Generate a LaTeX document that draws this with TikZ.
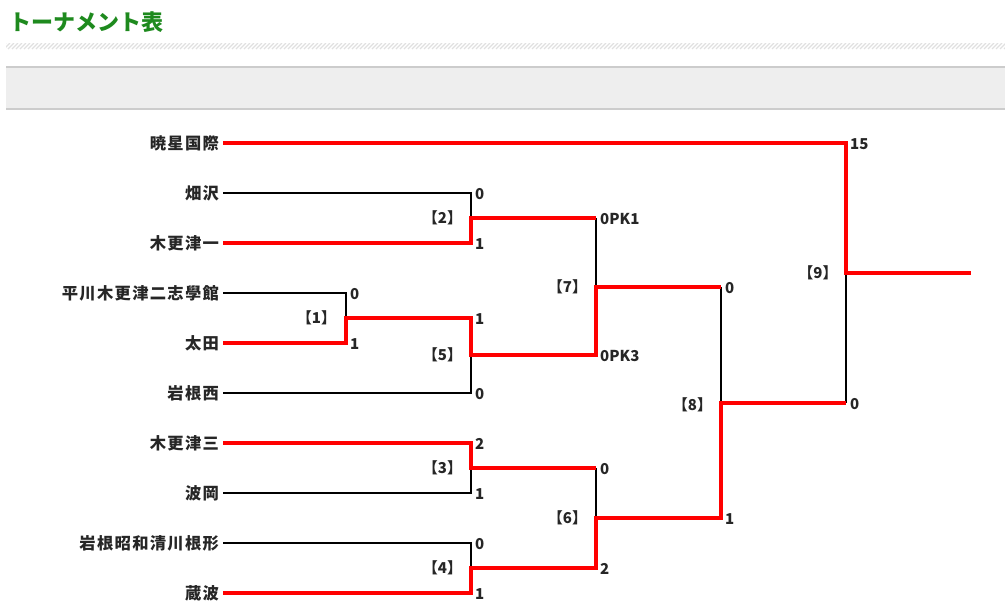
\documentclass[tikz,border=0pt]{standalone}
\usepackage{fontspec}
\newfontfamily\jp{Noto Sans CJK JP}
\definecolor{titlegreen}{RGB}{30,138,30}
\definecolor{boxgray}{RGB}{238,238,238}
\definecolor{boxline}{RGB}{204,204,204}
\definecolor{wred}{RGB}{255,0,0}
\tikzset{
  team/.style={anchor=east,inner sep=0pt,outer xsep=4pt,font=\jp\bfseries\fontsize{16.3}{16}\selectfont\addfontfeature{LetterSpace=8},text=black!85},
  score/.style={anchor=west,inner sep=0pt,font=\jp\bfseries\fontsize{15}{15}\selectfont,text=black!85},
  mlabel/.style={inner sep=0pt,font=\jp\bfseries\fontsize{15}{15}\selectfont,text=black!85},
  win/.style={draw=wred,line width=3.3pt,line join=miter},
  lose/.style={draw=black,line width=2pt,line join=miter},
}
\begin{document}
\begin{tikzpicture}[x=1pt,y=-1pt]
\useasboundingbox (0,0) rectangle (1005,611);
% header
\node[anchor=west,inner sep=0pt,text=titlegreen,font=\jp\bfseries\fontsize{22}{22}\selectfont] (title) at (9,22) {トーナメント表};
\begin{scope}
\clip (6,43) rectangle (1005,49);
\foreach \i in {0,4,...,1012} {\draw[black!12,line width=1.3pt] (\i,49) -- (\i+6,43);}
\end{scope}
\fill[boxgray] (6,67) rectangle (1005,109);
\draw[boxline,line width=1.2pt] (6,67) -- (1005,67) (6,109) -- (1005,109);
% teams
\node[team] (t1) at (223,143) {暁星国際};
\node[team] (t2) at (223,193) {畑沢};
\node[team] (t3) at (223,243) {木更津一};
\node[team] (t4) at (223,293) {平川木更津二志學館};
\node[team] (t5) at (223,343) {太田};
\node[team] (t6) at (223,393) {岩根西};
\node[team] (t7) at (223,443) {木更津三};
\node[team] (t8) at (223,493) {波岡};
\node[team] (t9) at (223,543) {岩根昭和清川根形};
\node[team] (t10) at (223,593) {蔵波};
% match corners
\coordinate (M1) at (346,318);
\coordinate (M2) at (471,218);
\coordinate (M5) at (471,355);
\coordinate (M3) at (471,468);
\coordinate (M4) at (471,568);
\coordinate (M7) at (596,287);
\coordinate (M6) at (596,518);
\coordinate (M8) at (721,403);
\coordinate (M9) at (846,273);
\coordinate (F) at (971,273);
% losers
\draw[lose] (t2.east) -| (M2);
\draw[lose] (t4.east) -| (M1);
\draw[lose] (t6.east) -| (M5);
\draw[lose] (t8.east) -| (M3);
\draw[lose] (t9.east) -| (M4);
\draw[lose] (M2 -| M7) -- (M7);
\draw[lose] (M3 -| M6) -- (M6);
\draw[lose] (M7 -| M8) -- (M8);
\draw[lose] (M8 -| M9) -- (M9);
% winners
\draw[win] (t5.east) -| (M1) -| (M5) -| (M7) -- (M7 -| M8);
\draw[win] (t3.east) -| (M2) -- (M2 -| M7);
\draw[win] (t7.east) -| (M3) -- (M3 -| M6);
\draw[win] (t10.east) -| (M4) -| (M6) -| (M8) -- (M8 -| M9);
\draw[win] (t1.east) -| (M9) -- (F);
% match labels
\node[mlabel] (L1) at (316.5,318) {【1】};
\node[mlabel] (L2) at (442.5,218) {【2】};
\node[mlabel] (L5) at (442.5,355) {【5】};
\node[mlabel] (L3) at (442.5,468) {【3】};
\node[mlabel] (L4) at (442.5,568) {【4】};
\node[mlabel] (L7) at (567.5,287) {【7】};
\node[mlabel] (L6) at (567.5,518) {【6】};
\node[mlabel] (L8) at (692.5,405) {【8】};
\node[mlabel] (L9) at (818,273) {【9】};
% scores
\node[score] (s1a) at (350,294) {0};
\node[score] (s1b) at (350,344) {1};
\node[score] (s2a) at (475,194) {0};
\node[score] (s2b) at (475,244) {1};
\node[score] (s5a) at (475,319) {1};
\node[score] (s5b) at (475,394) {0};
\node[score] (s3a) at (475,444) {2};
\node[score] (s3b) at (475,494) {1};
\node[score] (s4a) at (475,544) {0};
\node[score] (s4b) at (475,594) {1};
\node[score] (s7a) at (600,219) {0PK1};
\node[score] (s7b) at (600,356) {0PK3};
\node[score] (s6a) at (600,469) {0};
\node[score] (s6b) at (600,569) {2};
\node[score] (s8a) at (725,288) {0};
\node[score] (s8b) at (725,519) {1};
\node[score] (s9a) at (850,144) {15};
\node[score] (s9b) at (850,404) {0};
\end{tikzpicture}
\end{document}
